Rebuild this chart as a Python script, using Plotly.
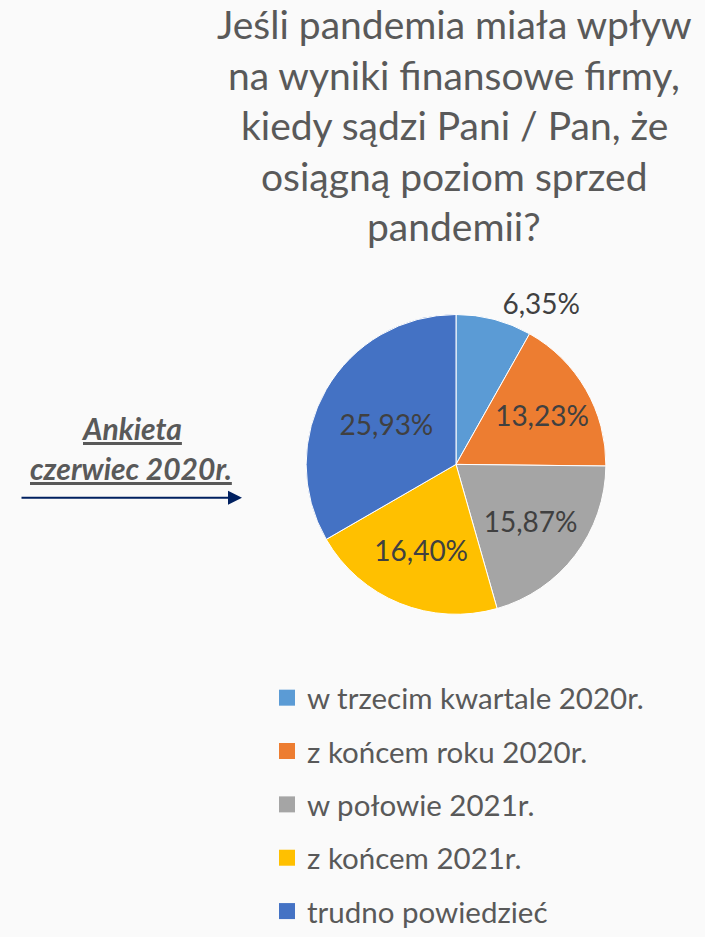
import plotly.graph_objects as go

W, H = 705, 937

TITLE_LINES = [
    "Jeśli pandemia miała wpływ",
    "na wyniki finansowe firmy,",
    "kiedy sądzi Pani / Pan, że",
    "osiągną poziom sprzed",
    "pandemii?",
]
SIDE_LINES = ["Ankieta", "czerwiec 2020r."]

CATEGORIES = [
    "w trzecim kwartale 2020r.",
    "z końcem roku 2020r.",
    "w połowie 2021r.",
    "z końcem 2021r.",
    "trudno powiedzieć",
]
SHARES = [6.35, 13.23, 15.87, 16.40, 25.93]
SLICE_COLORS = ["#5b9bd5", "#ed7d31", "#a5a5a5", "#ffc000", "#4472c4"]

TEXT_COLOR = "#595959"
LABEL_COLOR = "#404040"
BG = "#fafafa"
FONT = "Lato, 'Noto Sans', sans-serif"


def px_x(v):
    return v / W


def px_y(v):
    return 1 - v / H


labels_txt = [f"{v:.2f}".replace(".", ",") + "%" for v in SHARES]
positions = ["outside" if v < 10 else "inside" for v in SHARES]

fig = go.Figure()
fig.add_trace(
    go.Pie(
        labels=CATEGORIES,
        values=SHARES,
        text=labels_txt,
        textinfo="text",
        textposition=positions,
        insidetextorientation="horizontal",
        sort=False,
        direction="clockwise",
        rotation=0,
        marker=dict(colors=SLICE_COLORS, line=dict(color="#ffffff", width=1)),
        textfont=dict(family=FONT, size=28, color=LABEL_COLOR),
        outsidetextfont=dict(family=FONT, size=28, color=LABEL_COLOR),
        domain=dict(x=[px_x(303), px_x(609)], y=[px_y(627), px_y(321)]),
        showlegend=False,
        hoverinfo="label+text",
    )
)

# legend entries, one group each so the row spacing can be set
for name, col in zip(CATEGORIES, SLICE_COLORS):
    fig.add_trace(
        go.Scatter(
            x=[None], y=[None], mode="markers", name=name, legendgroup=name,
            marker=dict(symbol="square", size=16, color=col),
        )
    )

annotations = []
for i, line in enumerate(TITLE_LINES):
    annotations.append(dict(
        text=line, x=px_x(454), y=px_y(25 + i * 51.5), xref="paper", yref="paper",
        xanchor="center", yanchor="middle", showarrow=False,
        font=dict(family=FONT, size=39, color=TEXT_COLOR),
    ))
for i, line in enumerate(SIDE_LINES):
    annotations.append(dict(
        text=f"<b><i><u>{line}</u></i></b>", x=px_x(131), y=px_y(437 + i * 41),
        xref="paper", yref="paper", xanchor="center", yanchor="middle", showarrow=False,
        font=dict(family=FONT, size=30, color=TEXT_COLOR),
    ))
annotations.append(dict(
    text="", x=px_x(242), y=px_y(508), xref="paper", yref="paper",
    ax=-222, ay=0, showarrow=True, arrowhead=2, arrowsize=1.4, arrowwidth=2,
    arrowcolor="#002060",
))

fig.update_layout(
    width=W,
    height=H,
    margin=dict(l=0, r=0, t=0, b=0),
    paper_bgcolor=BG,
    plot_bgcolor=BG,
    xaxis=dict(visible=False),
    yaxis=dict(visible=False),
    annotations=annotations,
    legend=dict(
        x=px_x(267), y=px_y(686), xanchor="left", yanchor="top",
        font=dict(family=FONT, size=29.5, color=TEXT_COLOR),
        tracegroupgap=12, bgcolor="rgba(0,0,0,0)",
    ),
)

fig.write_html(
    "out.html",
    config={"displayModeBar": False},
    post_script=f"document.body.style.margin='0';document.body.style.background='{BG}';",
)
